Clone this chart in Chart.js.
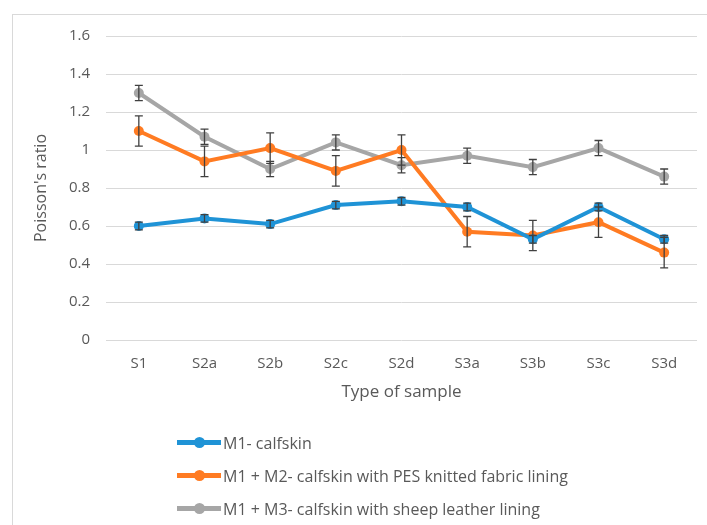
<!DOCTYPE html>
<html>
<head>
<meta charset="utf-8">
<script src="https://cdn.jsdelivr.net/npm/chart.js@4.4.1/dist/chart.umd.min.js"></script>
<style>
  html, body { margin: 0; padding: 0; background: #fff; }
  #wrap { position: relative; width: 707px; height: 525px; overflow: hidden; }
  #frame { position: absolute; left: 12px; top: 14px; width: 720px; height: 540px; border: 1px solid #d9d9d9; }
  #myChart { position: absolute; left: 0; top: 0; }
  #legend { position: absolute; left: 177px; top: 426px; font-family: "Open Sans", "Liberation Sans", sans-serif; font-size: 16px; color: #595959; }
  .item { height: 33px; display: flex; align-items: center; }
  .swatch { position: relative; width: 44px; height: 5px; margin-right: 2px; }
  .swatch span { position: absolute; left: 17px; top: -3px; width: 11px; height: 11px; border-radius: 50%; }
</style>
</head>
<body>
<div id="wrap">
  <div id="frame"></div>
  <canvas id="myChart" width="707" height="525"></canvas>
  <div id="legend"></div>
</div>
<script>
"use strict";
const labels = ['S1', 'S2a', 'S2b', 'S2c', 'S2d', 'S3a', 'S3b', 'S3c', 'S3d'];
const names = [
    'M1- calfskin',
    'M1 + M2- calfskin with PES knitted fabric lining',
    'M1 + M3- calfskin with sheep leather lining'
];
const m1 = [0.60, 0.64, 0.61, 0.71, 0.73, 0.70, 0.53, 0.70, 0.53];
const m2 = [1.10, 0.94, 1.01, 0.89, 1.00, 0.57, 0.55, 0.62, 0.46];
const m3 = [1.30, 1.07, 0.90, 1.04, 0.92, 0.97, 0.91, 1.01, 0.86];
const m1Err = [0.02, 0.02, 0.02, 0.02, 0.02, 0.02, 0.02, 0.02, 0.02];
const m2Err = [0.08, 0.08, 0.08, 0.08, 0.08, 0.08, 0.08, 0.08, 0.08];
const m3Err = [0.04, 0.04, 0.04, 0.04, 0.04, 0.04, 0.04, 0.04, 0.04];
const yTicks = [0, 0.2, 0.4, 0.6, 0.8, 1, 1.2, 1.4, 1.6];

const colors = ['#1f93d6', '#ff7b22', '#a6a6a6'];
const errs = [m1Err, m2Err, m3Err];

// draw error bars on top of the lines
const errorBars = {
    id: 'errorBars',
    afterDatasetsDraw(chart) {
        const c = chart.ctx;
        const y = chart.scales.y;
        c.save();
        c.strokeStyle = '#404040';
        c.lineWidth = 1.3;
        chart.data.datasets.forEach(function(ds, d) {
            const meta = chart.getDatasetMeta(d);
            meta.data.forEach(function(pt, i) {
                const v = ds.data[i];
                const e = errs[d][i];
                const top = y.getPixelForValue(v + e);
                const bot = y.getPixelForValue(v - e);
                c.beginPath();
                c.moveTo(pt.x, top); c.lineTo(pt.x, bot);
                c.moveTo(pt.x - 4, top); c.lineTo(pt.x + 4, top);
                c.moveTo(pt.x - 4, bot); c.lineTo(pt.x + 4, bot);
                c.stroke();
            });
        });
        c.restore();
    }
};

const font = "'Open Sans', 'Liberation Sans', sans-serif";
const ctx = document.getElementById('myChart');
var myChart = new Chart(ctx, {
    type: 'line',
    data: {
        labels: labels,
        datasets: [m1, m2, m3].map(function(arr, i) {
            return {
                label: names[i],
                data: arr,
                borderColor: colors[i],
                backgroundColor: colors[i],
                borderWidth: 4,
                pointRadius: 5,
                pointBorderWidth: 0,
                pointHoverRadius: 5,
                tension: 0
            };
        })
    },
    options: {
        responsive: false,
        animation: false,
        events: [],
        layout: { padding: { left: 28, right: 10, top: 36, bottom: 119 } },
        plugins: {
            legend: { display: false },
            tooltip: { enabled: false }
        },
        scales: {
            x: {
                offset: true,
                grid: { display: false },
                border: { display: false },
                ticks: { color: '#595959', font: { family: font, size: 15 }, padding: 7 },
                title: { display: true, text: 'Type of sample', color: '#595959', font: { family: font, size: 17 }, padding: { top: 4 } },
                afterFit(s) { s.height = 66; }
            },
            y: {
                min: 0,
                max: 1.6,
                afterBuildTicks(s) { s.ticks = yTicks.map(function(v) { return { value: v }; }); },
                grid: { color: '#d9d9d9', lineWidth: 1, drawTicks: false },
                border: { display: false },
                ticks: {
                    color: '#595959',
                    font: { family: font, size: 15 },
                    padding: 16,
                    callback: function(v) { return String(+v.toFixed(1)); }
                },
                title: { display: true, text: "Poisson's ratio", color: '#595959', font: { family: font, size: 16 }, padding: { bottom: 4 } },
                afterFit(s) { s.width = 78; }
            }
        }
    },
    plugins: [errorBars]
});

// legend, one entry per row
const lg = document.getElementById('legend');
names.forEach(function(n, i) {
    const row = document.createElement('div');
    row.className = 'item';
    row.innerHTML = '<div class="swatch" style="background:' + colors[i] + '"><span style="background:' + colors[i] + '"></span></div>' + n;
    lg.appendChild(row);
});
</script>
</body>
</html>
